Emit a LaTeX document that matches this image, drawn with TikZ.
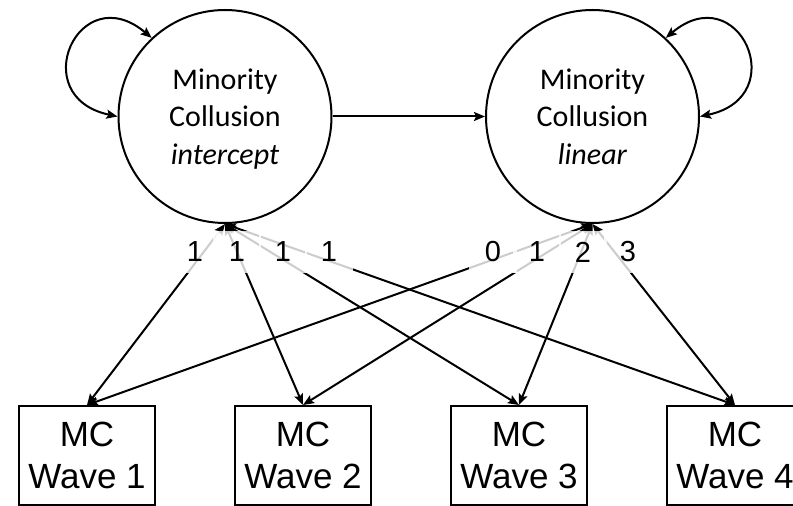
\documentclass[tikz,border=0pt]{standalone}
\usepackage{fontspec}
\setmainfont{Liberation Sans}
\newfontfamily\calfont{Carlito}
\usetikzlibrary{arrows.meta,positioning}

\begin{document}
\begin{tikzpicture}[x=1pt,y=1pt,>={Stealth[length=11pt,width=9pt,inset=2pt]},
  line width=2pt,
  latent/.style={draw,circle,minimum size=213pt,inner sep=0pt,align=center,
    font=\calfont\fontsize{30}{37.5}\selectfont},
  obs/.style={draw,rectangle,minimum width=136pt,minimum height=99pt,inner sep=0pt,
    align=center,font=\fontsize{35}{42}\selectfont},
  lbl/.style={fill=white,fill opacity=0.8,text opacity=1,inner sep=0pt,
    minimum width=48pt,minimum height=42pt,font=\fontsize{29}{30}\selectfont}]
\useasboundingbox (0,0) rectangle (793,506);
% latent factors
\node[latent] (int) at (225,389.5) {Minority\\Collusion\\\smash{\textit{intercept}}};
\node[latent,right=152.5pt of int] (lin) {Minority\\Collusion\\\textit{linear}};
% observed waves
\node[obs] (w1) at (87,50.5) {MC\\Wave 1};
\node[obs,right=78pt of w1] (w2) {MC\\Wave 2};
\node[obs,right=78pt of w2] (w3) {MC\\Wave 3};
\node[obs,right=78pt of w3] (w4) {MC\\Wave 4};
% paths
\draw[->] (int) -- (lin);
\draw[<->] (int.133) .. controls +(140:95) and +(168:95) .. (int.180);
\draw[<->] (lin.47) .. controls +(40:95) and +(12:95) .. (lin.0);
\foreach \w in {1,2,3,4} {
  \draw[<->] (int.south) -- (w\w.north);
  \draw[<->] (lin.south) -- (w\w.north);
}
% loadings
\foreach \w/\lx in {1/195,2/237,3/283,4/329}
  \node[lbl] (li\w) at (\lx,254) {1};
\foreach \w/\lx/\t in {1/493/0,2/537/1,3/583/2,4/628/3}
  \node[lbl] (ll\w) at (\lx,254) {\t};
\end{tikzpicture}
\end{document}
